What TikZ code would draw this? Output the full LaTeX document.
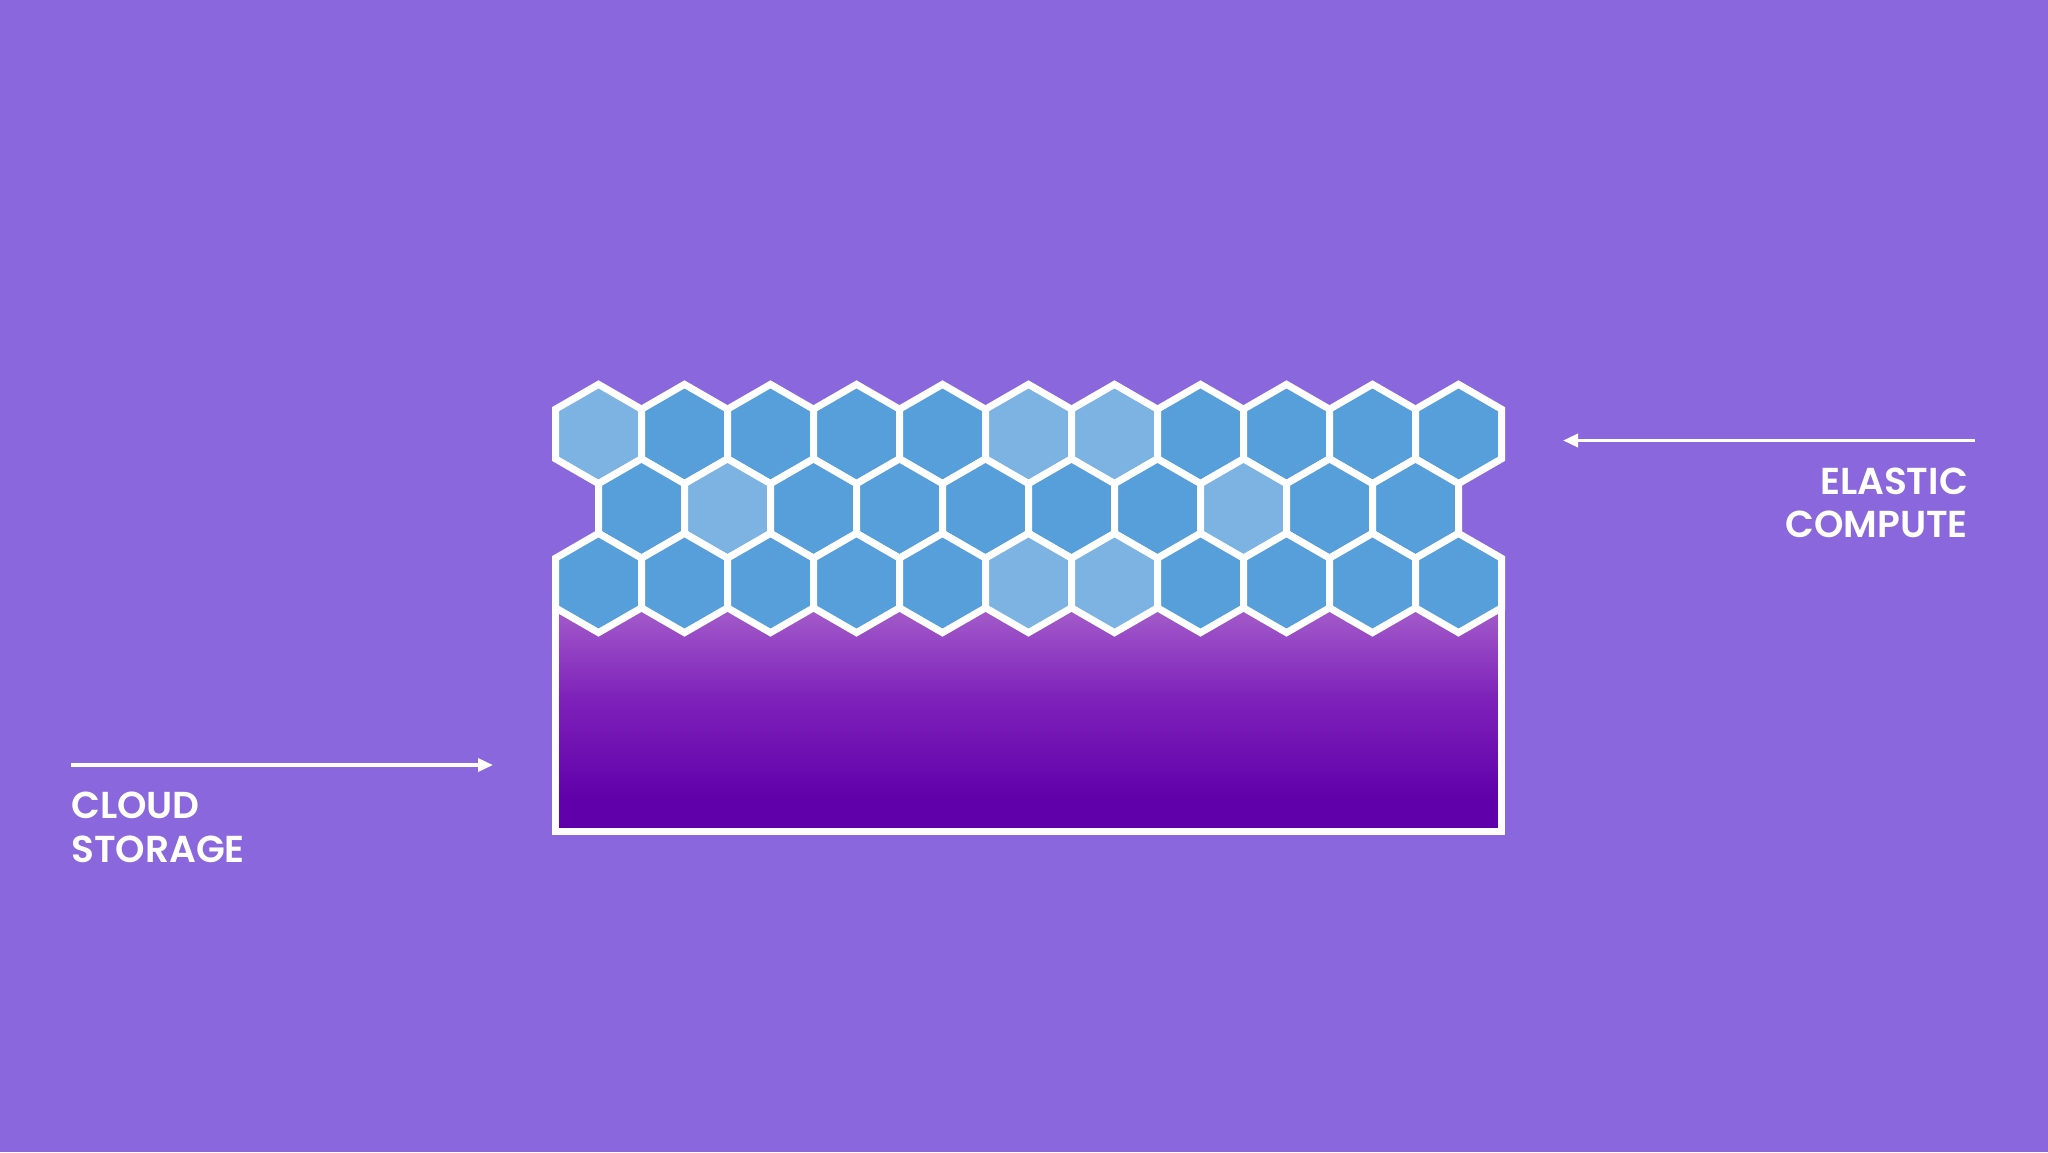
\documentclass[tikz,border=0pt]{standalone}
\usepackage{fontspec}
\newfontfamily\labelfont{Poppins}[UprightFont=* SemiBold]
\usetikzlibrary{arrows.meta}
\definecolor{bg}{HTML}{8B67DD}
\definecolor{hexB}{HTML}{569FDA}
\definecolor{hexL}{HTML}{7CB3E2}
\definecolor{stlight}{HTML}{A45CCA}
\definecolor{stmid}{HTML}{7E22BA}
\definecolor{stdark}{HTML}{5F00AA}
\pgfdeclareverticalshading{storagegrad}{100bp}{color(0bp)=(stdark); color(32bp)=(stdark); color(55bp)=(stmid); color(75bp)=(stlight); color(100bp)=(stlight)}
\newcommand\hexcell[3]{%
  \filldraw[hexline,fill=#3] (#1,#2-49.65) -- (#1+43,#2-24.825) -- (#1+43,#2+24.825) -- (#1,#2+49.65) -- (#1-43,#2+24.825) -- (#1-43,#2-24.825) -- cycle;}
\tikzset{
  hexline/.style={draw=white, line width=7pt, line join=miter},
  boxline/.style={draw=white, line width=7pt, line join=miter},
  lbl/.style={font=\labelfont\fontsize{37.5}{44}\selectfont, text=white, inner sep=0pt},
  arr/.style={draw=white, line width=3.5pt, -{Triangle[length=15pt,width=13pt]}}
}
\begin{document}
\begin{tikzpicture}[x=1pt,y=-1pt]
\fill[bg] (0,0) rectangle (2048,1152);
\useasboundingbox (0,0) rectangle (2048,1152);
% storage region
\shade[shading=storagegrad] (555.5,607.8) foreach \i in {0,...,10} { -- ({598.5+86*\i},632.65) -- ({641.5+86*\i},607.8) } -- (1501.5,831) -- (555.5,831) -- cycle;
% hexagons
\foreach \c [count=\i from 0] in {L,B,B,B,B,L,L,B,B,B,B} {\hexcell{598.5+86*\i}{434}{hex\c}}
\foreach \c [count=\i from 0] in {B,L,B,B,B,B,B,L,B,B} {\hexcell{641.5+86*\i}{508.5}{hex\c}}
\foreach \c [count=\i from 0] in {B,B,B,B,B,L,L,B,B,B,B} {\hexcell{598.5+86*\i}{583}{hex\c}}
% storage box outline
\draw[boxline] (555.5,607.8) -- (555.5,831) -- (1501.5,831) -- (1501.5,607.8);
% labels
\node[lbl, anchor=base west] (cloud) at (71,818) {CLOUD};
\node[lbl, anchor=base west] (storage) at (71,862) {STORAGE};
\node[lbl, anchor=base east] (elastic) at (1968,494) {ELASTIC};
\node[lbl, anchor=base east] (compute) at (1968,537) {COMPUTE};
% arrows
\coordinate (cs0) at (71,765);
\coordinate (cs1) at (493,765);
\coordinate (ec0) at (1975,440.5);
\coordinate (ec1) at (1563,440.5);
\draw[arr] (cs0) -- (cs1);
\draw[arr] (ec0) -- (ec1);
\end{tikzpicture}
\end{document}
